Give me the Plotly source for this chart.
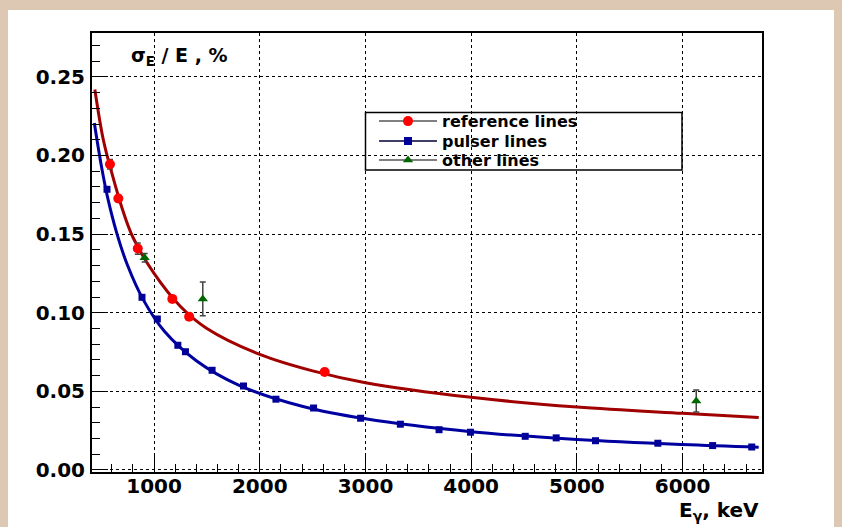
import plotly.graph_objects as go

# ---------------- data ----------------
ref_E = [583, 662, 846, 1173, 1332, 2614]
ref_res = [0.1944, 0.1726, 0.1408, 0.1088, 0.0975, 0.0623]
ref_err = [0.0030, 0.0020, 0.0036, 0.0020, 0.0020, 0.0020]

pulser_E = [555, 886, 1031, 1225, 1297, 1549, 1846, 2153, 2509, 2954,
            3330, 3696, 3993, 4511, 4804, 5176, 5766, 6284, 6654]
pulser_res = [0.1785, 0.1098, 0.0960, 0.0793, 0.0752, 0.0634, 0.0534, 0.0450,
              0.0394, 0.0329, 0.0291, 0.0256, 0.0240, 0.0214, 0.0204, 0.0186,
              0.0170, 0.0155, 0.0146]

other_E = [911, 1461, 6129]
other_res = [0.1350, 0.1088, 0.0439]
other_err = [0.0027, 0.0108, 0.0070]

# fitted curves
ref_fit_E = [440, 520, 600, 700, 800, 1000, 1250, 1500, 2000, 2500, 3000,
             4000, 5000, 6000, 6720]
ref_fit_res = [0.2420, 0.2100, 0.1890, 0.1660, 0.1480, 0.1250, 0.1040, 0.0900,
               0.0735, 0.0630, 0.0555, 0.0462, 0.0400, 0.0360, 0.0334]

pulser_fit_E = [435, 500, 560, 650, 750, 900, 1100, 1400, 1800, 2400, 3000,
                4000, 5000, 6000, 6720]
pulser_fit_res = [0.2207, 0.1940, 0.1735, 0.1500, 0.1300, 0.1080, 0.0880,
                  0.0695, 0.0540, 0.0405, 0.0325, 0.0243, 0.0194, 0.0162, 0.0145]

legend_names = ["reference lines", "pulser lines", "other lines"]
x_title = "E<sub>γ</sub>, keV"
y_title = "σ<sub>E</sub> / E , %"

# ---------------- styling ----------------
W, H = 842, 527
ML, MR, MT, MB = 92, 80, 33, 55
PW, PH = W - ML - MR, H - MT - MB
FONT = "DejaVu Sans"
BEIGE = "#DDC9B3"
DARKRED = "#A00000"
DARKBLUE = "#0000A0"


def px_x(p):
    return (p - ML) / PW


def px_y(p):
    return (H - MB - p) / PH


fig = go.Figure()

# curves
fig.add_trace(go.Scatter(x=ref_fit_E, y=ref_fit_res, mode="lines",
                         line=dict(color=DARKRED, width=3, shape="spline", smoothing=1.0),
                         showlegend=False, hoverinfo="skip"))
fig.add_trace(go.Scatter(x=pulser_fit_E, y=pulser_fit_res, mode="lines",
                         line=dict(color=DARKBLUE, width=3, shape="spline", smoothing=1.0),
                         showlegend=False, hoverinfo="skip"))

# data points
fig.add_trace(go.Scatter(x=pulser_E, y=pulser_res, mode="markers",
                         marker=dict(symbol="square", size=7, color="#000099"),
                         showlegend=False))
fig.add_trace(go.Scatter(x=ref_E, y=ref_res, mode="markers",
                         marker=dict(symbol="circle", size=10, color="#FF0000"),
                         error_y=dict(type="data", array=ref_err, color="#444444",
                                      thickness=1.5, width=3),
                         showlegend=False))
fig.add_trace(go.Scatter(x=other_E, y=other_res, mode="markers",
                         marker=dict(symbol="triangle-up", size=9, color="#006600"),
                         error_y=dict(type="data", array=other_err, color="#444444",
                                      thickness=1.5, width=3),
                         showlegend=False))

# legend entries (one legend per row so each can be placed like the original)
leg_styles = [
    dict(line=dict(color="#808080", width=2), marker=dict(symbol="circle", size=10, color="#FF0000")),
    dict(line=dict(color="#000033", width=1.5), marker=dict(symbol="square", size=8, color="#000099")),
    dict(line=dict(color="#808080", width=2), marker=dict(symbol="triangle-up", size=9, color="#006600")),
]
leg_ids = ["legend", "legend2", "legend3"]
row_centers = [120.2, 140.2, 159.2]
for name, st, lid in zip(legend_names, leg_styles, leg_ids):
    fig.add_trace(go.Scatter(x=[None], y=[None], mode="lines+markers", name=name,
                             line=st["line"], marker=st["marker"], showlegend=True,
                             legend=lid))

axis_common = dict(
    showline=True, linecolor="black", linewidth=2, mirror=True,
    ticks="inside", ticklen=16, tickwidth=1, tickcolor="black",
    showgrid=True, gridcolor="black", gridwidth=1, griddash="dot",
    zeroline=False,
    tickfont=dict(family=FONT, size=20, color="black", weight="bold"),
)

fig.update_xaxes(range=[413, 6751], dtick=1000, tick0=0,
                 minor=dict(dtick=200, ticks="inside", ticklen=8, tickcolor="black", showgrid=False),
                 ticklabelstandoff=-5,
                 **axis_common)
fig.update_yaxes(range=[-0.0013, 0.2779], dtick=0.05, tick0=0, tickformat=".2f",
                 minor=dict(dtick=0.01, ticks="inside", ticklen=8, tickcolor="black", showgrid=False),
                 ticklabelstandoff=1,
                 **axis_common)

shapes = [
    # white canvas inside beige frame
    dict(type="rect", xref="paper", yref="paper", layer="below",
         x0=px_x(8), x1=px_x(834), y0=px_y(540), y1=px_y(10),
         fillcolor="white", line=dict(width=0)),
    # legend box
    dict(type="rect", xref="paper", yref="paper",
         x0=px_x(365.5), x1=px_x(682), y0=px_y(170), y1=px_y(112.5),
         fillcolor="rgba(0,0,0,0)", line=dict(color="black", width=1.5)),
]

annotations = [
    dict(text=y_title, xref="paper", yref="paper", x=px_x(129), y=px_y(57),
         xanchor="left", yanchor="middle", showarrow=False,
         font=dict(family=FONT, size=19, color="black", weight="bold")),
    dict(text=x_title, xref="paper", yref="paper", x=px_x(761), y=px_y(511),
         xanchor="right", yanchor="middle", showarrow=False,
         font=dict(family=FONT, size=20, color="black", weight="bold")),
]

legend_font = dict(family=FONT, size=16, color="black", weight="bold")
legend_layout = {}
for lid, yc in zip(leg_ids, row_centers):
    legend_layout[lid] = dict(x=px_x(374), y=px_y(yc - 16), xanchor="left", yanchor="top",
                              bgcolor="rgba(0,0,0,0)", borderwidth=0,
                              font=legend_font, itemwidth=58)

fig.update_layout(
    width=W, height=H,
    margin=dict(l=ML, r=MR, t=MT, b=MB),
    paper_bgcolor=BEIGE, plot_bgcolor="white",
    shapes=shapes, annotations=annotations,
    showlegend=True,
    **legend_layout,
)

fig.write_html("out.html",
               config={"displayModeBar": False},
               post_script="document.body.style.margin='0px'; document.body.style.background='" + BEIGE + "';")
